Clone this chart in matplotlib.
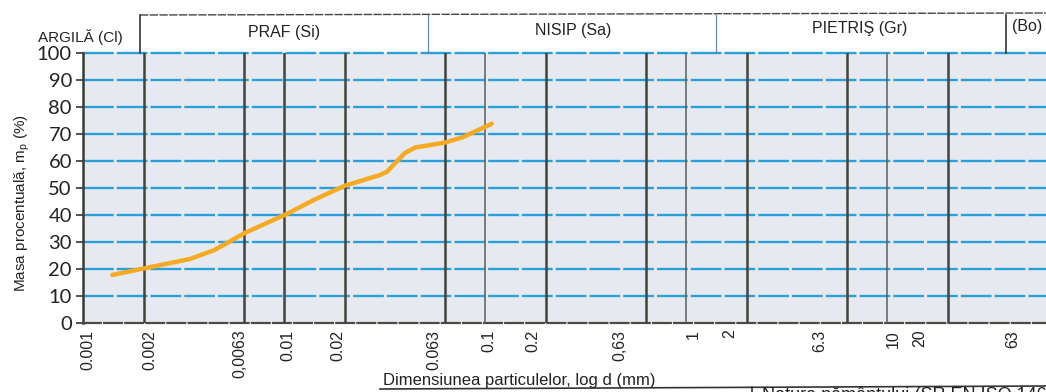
import matplotlib.pyplot as plt
from matplotlib.lines import Line2D
from matplotlib.ticker import NullLocator
import matplotlib.transforms as mtransforms

# ===== DATA =====
d_mm = [0.0014, 0.0021, 0.0034, 0.0045, 0.0064, 0.0104, 0.014, 0.020,
        0.030, 0.0325, 0.040, 0.045, 0.063, 0.078, 0.108]
mass_pct = [17.8, 20.5, 23.7, 27.0, 33.4, 40.5, 45.5, 50.8,
            54.8, 56.0, 63.0, 65.0, 66.8, 68.9, 73.8]

grid_mm = [0.002, 0.0063, 0.01, 0.02, 0.063, 0.1, 0.2, 0.63, 1, 2, 6.3, 10, 20, 63]
decades = [0.1, 1, 10]

x_labels = ["0.001", "0.002", "0,0063", "0.01", "0.02", "0.063", "0.1", "0.2",
            "0,63", "1", "2", "6.3", "10", "20", "63"]
# where the printed labels sit on the form (mm)
x_label_at = [0.00106, 0.00215, 0.00604, 0.01047, 0.01857, 0.0557, 0.1047, 0.1733,
              0.4695, 1.083, 1.656, 4.64, 10.7, 14.6, 42.4]

y_ticks = [0, 10, 20, 30, 40, 50, 60, 70, 80, 90, 100]

classes = ["PRAF (Si)", "NISIP (Sa)", "PIETRIŞ (Gr)", "(Bo)"]

SANS = ["Liberation Sans", "DejaVu Sans"]
plt.rcParams["mathtext.fontset"] = "custom"
plt.rcParams["mathtext.rm"] = "Liberation Sans"
plt.rcParams["mathtext.it"] = "Liberation Sans"

W, H = 1046, 392


def fx(x):
    return x / W


def fy(y):
    return 1 - y / H


fig = plt.figure(figsize=(W / 100, H / 100), dpi=100)
fig.patch.set_facecolor("white")

# ===== MAIN AXES =====
ax = fig.add_axes([fx(83), fy(323), 1 - fx(83), fy(53) - fy(323)])
ax.set_xscale("log")
ax.set_xlim(0.001, 61.8)
ax.set_ylim(0, 100)
ax.set_facecolor("#e6eaf0")

for v in y_ticks[1:]:
    ax.axhline(v, color="#2a9fd9", lw=1.7, dashes=(13, 1.3), clip_on=False, zorder=2)

for g in grid_mm:
    if g in decades:
        ax.axvline(g, color="#55605f", lw=1.1, zorder=3)
    else:
        ax.axvline(g, color="#43443c", lw=1.8, zorder=3)

ax.plot(d_mm, mass_pct, color="#f5aa22", lw=3.2, solid_capstyle="round", zorder=5)

for s in ["top", "right"]:
    ax.spines[s].set_visible(False)
ax.spines["left"].set_color("#3a3a36")
ax.spines["left"].set_linewidth(1.8)
ax.spines["bottom"].set_color("#4a4a44")
ax.spines["bottom"].set_linewidth(1.6)
ax.spines["bottom"].set_linestyle((0, (8, 1.5)))

ax.set_yticks(y_ticks)
ax.set_yticklabels([str(v) for v in y_ticks], fontfamily="Lato", fontsize=14.5, color="#222222")
ax.tick_params(axis="y", length=5, width=1.2, color="#333333", pad=3)
ax.xaxis.set_major_locator(NullLocator())
ax.xaxis.set_minor_locator(NullLocator())

trans = mtransforms.blended_transform_factory(ax.transData, ax.transAxes)
for lab, pos in zip(x_labels, x_label_at):
    ax.text(pos, -0.025, lab, transform=trans, rotation=90, ha="center", va="top",
            fontsize=11.5, family=SANS, color="#222222")

# ===== AXIS TITLES =====
fig.text(fx(22), fy(203), "Masa procentuală, m$_\\mathregular{p}$ (%)", rotation=90,
         ha="center", va="center", fontsize=11, family=SANS, color="#222222")
fig.text(fx(519), fy(380), "Dimensiunea particulelor, log d (mm)", ha="center", va="center",
         fontsize=12, family=SANS, color="#222222")

# ===== HEADER (soil classes) =====
fig.add_artist(Line2D([fx(140), 1], [fy(15), fy(13)], transform=fig.transFigure,
                      color="#444444", lw=1.0, ls=(0, (6, 1))))
for xd, col, lw in [(140, "#333333", 1.2), (428, "#5a8fb0", 0.9),
                    (716, "#5a8fb0", 0.9), (1006, "#333333", 1.2)]:
    fig.add_artist(Line2D([fx(xd), fx(xd)], [fy(15), fy(53)], transform=fig.transFigure,
                          color=col, lw=lw))

fig.text(fx(80), fy(37), "ARGILĂ (Cl)", ha="center", va="center", fontsize=11,
         family=SANS, color="#222222")
for lab, xc, yc in zip(classes, [284, 573, 860, 1027], [33, 31, 29, 27]):
    fig.text(fx(xc), fy(yc), lab, ha="center", va="center", fontsize=11.5,
             family=SANS, color="#222222")

# ===== FOOTER TABLE EDGE =====
fig.add_artist(Line2D([fx(380), 1], [fy(389), fy(386)], transform=fig.transFigure,
                      color="#333333", lw=1.2))
fig.add_artist(Line2D([fx(752), fx(752)], [fy(387), 0], transform=fig.transFigure,
                      color="#333333", lw=1.2))
fig.text(fx(762), fy(386.5), "Natura pământului (SR EN ISO 14688", ha="left", va="top",
         fontsize=13, family=SANS, color="#222222")

fig.savefig("out.png", dpi=100)
